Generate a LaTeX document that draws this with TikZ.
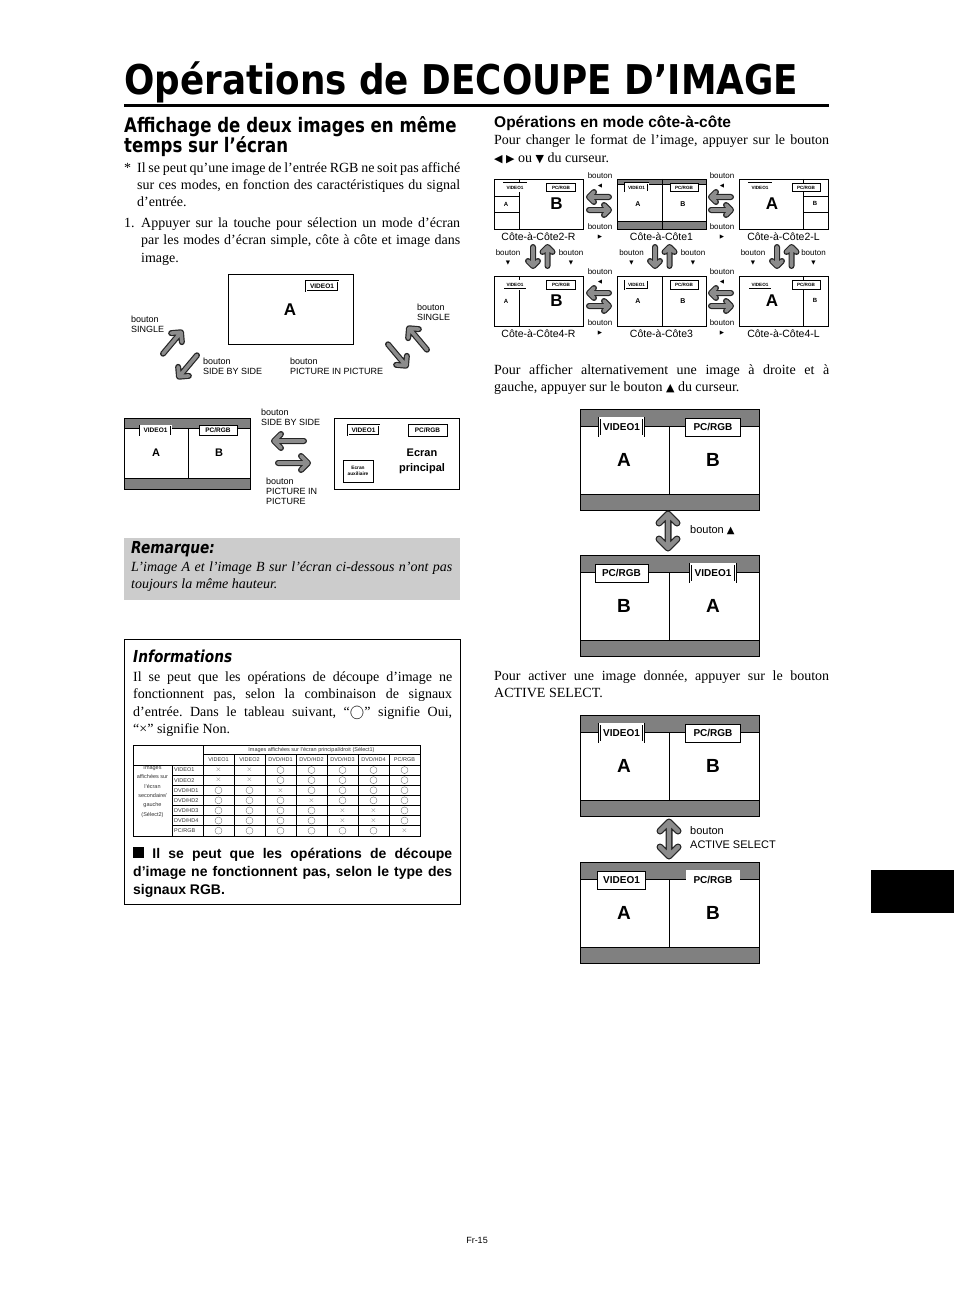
\documentclass[tikz,border=0pt]{standalone}
\usepackage{fontspec}
\usepackage{graphicx}
\setmainfont{Liberation Serif}
\setsansfont{Liberation Sans}
\newfontfamily\headfont[FakeStretch=0.83]{DejaVu Sans}
\newfontfamily\symfont{DejaVu Sans}
\frenchspacing

\definecolor{bandgray}{gray}{0.5}
\definecolor{remgray}{gray}{0.8}
\definecolor{arrowgray}{gray}{0.55}

\tikzset{
  scr/.style={draw, line width=0.9pt, fill=white},
  band/.style={draw, line width=0.9pt, fill=bandgray},
  divider/.style={line width=0.7pt},
  bigtag/.style={draw, line width=0.8pt, fill=white, inner xsep=4pt, inner ysep=0pt,
    minimum height=18pt, font=\sffamily\bfseries\fontsize{10}{10}\selectfont},
  bigsel/.style={bigtag, double, double distance=1.1pt},
  midtag/.style={draw, line width=0.6pt, fill=white, inner xsep=2pt, inner ysep=0pt,
    minimum height=10pt, font=\sffamily\bfseries\fontsize{6.5}{6.5}\selectfont},
  midsel/.style={midtag, double, double distance=0.7pt},
  tinytag/.style={draw, line width=0.5pt, fill=white, inner xsep=1pt, inner ysep=0pt,
    minimum height=8.5pt, font=\sffamily\bfseries\fontsize{4.6}{4.6}\selectfont},
  tinysel/.style={tinytag, double, double distance=0.5pt},
  bigletter/.style={font=\sffamily\bfseries\fontsize{19}{19}\selectfont},
  gridletter/.style={font=\sffamily\bfseries\fontsize{17}{17}\selectfont},
  midletter/.style={font=\sffamily\bfseries\fontsize{11}{11}\selectfont},
  smallletter/.style={font=\sffamily\bfseries\fontsize{6}{6}\selectfont},
  headl/.style={anchor=base west, inner sep=0pt, font=\headfont\bfseries\fontsize{20}{20}\selectfont},
  boxhead/.style={anchor=base west, inner sep=0pt, font=\headfont\bfseries\itshape\fontsize{16.5}{16.5}\selectfont},
  para/.style={anchor=base west, inner sep=0pt, text width=#1, align=justify,
    font=\fontsize{14}{17.5}\selectfont},
  lbl/.style={anchor=north west, inner sep=0pt, align=left, font=\sffamily\fontsize{9}{10}\selectfont},
  glbl/.style={inner sep=0pt, font=\sffamily\fontsize{8}{8}\selectfont},
  gsym/.style={inner sep=0pt, font=\symfont\fontsize{5.5}{5.5}\selectfont},
  capl/.style={inner sep=0pt, font=\sffamily\fontsize{10.5}{10.5}\selectfont},
  tabline/.style={line width=0.5pt},
  tabtxt/.style={inner sep=0pt, text=black!80, font=\sffamily\fontsize{5.5}{5.5}\selectfont},
  tabsym/.style={inner sep=0pt, text=black!55, draw=black!55, line width=0.4pt,
    font=\fontsize{7}{7}\selectfont},
  arrowout/.style={line width=6pt, black!85, line cap=round, line join=round},
  arrowin/.style={line width=3.6pt, arrowgray, line cap=round, line join=round},
  darrowout/.style={line width=7pt, black!85, line cap=round, line join=round},
  darrowin/.style={line width=4.4pt, arrowgray, line cap=round, line join=round},
  pics/barrow/.style 2 args={code={
    \draw[arrowout] (-#1,0) -- (#1,0) (#1-#2,-#2) -- (#1,0) -- (#1-#2,#2);
    \draw[arrowin] (-#1,0) -- (#1,0) (#1-#2,-#2) -- (#1,0) -- (#1-#2,#2);
  }},
  pics/dbarrow/.style 2 args={code={
    \draw[darrowout] (0,-#1) -- (0,#1) (-#2,-#1+#2) -- (0,-#1) -- (#2,-#1+#2)
      (-#2,#1-#2) -- (0,#1) -- (#2,#1-#2);
    \draw[darrowin] (0,-#1) -- (0,#1) (-#2,-#1+#2) -- (0,-#1) -- (#2,-#1+#2)
      (-#2,#1-#2) -- (0,#1) -- (#2,#1-#2);
  }},
}

% big side-by-side screen: top, left tag, its style, right tag, its style, letters, name
\newcommand{\bigscreen}[8]{%
  \draw[scr] (580,#1) rectangle (759,#1+101);
  \draw[band] (580,#1) rectangle (759,#1+17);
  \draw[band] (580,#1+85) rectangle (759,#1+101);
  \draw[divider] (669,#1+17) -- (669,#1+85);
  \node[#3] (#8l) at (621.5,#1+18) {#2};
  \node[#5] (#8r) at (713,#1+18) {#4};
  \node[bigletter] (#8a) at (624,#1+51) {#6};
  \node[bigletter] (#8b) at (713,#1+51) {#7};
}

% small screens of the grid: x, y, split strip / bands (1 or 0), name
\newcommand{\screenR}[4]{%
  \begin{scope}[shift={(#1,#2)}]
    \draw[scr] (0,0) rectangle (89,50);
    \draw[divider] (25,0) -- (25,50);
    \ifnum#3=1 \draw[divider] (0,17) -- (25,17) (0,33) -- (25,33); \fi
    \node[tinysel, minimum width=23pt] (#4v) at (21,8.5) {VIDEO1};
    \node[tinytag, minimum width=29pt] (#4p) at (67,8.5) {PC/RGB};
    \node[smallletter] (#4a) at (12,25) {A};
    \node[gridletter] (#4b) at (62.5,25) {B};
  \end{scope}}
\newcommand{\screenC}[4]{%
  \begin{scope}[shift={(#1,#2)}]
    \draw[scr] (0,0) rectangle (89,50);
    \ifnum#3=1 \draw[band] (0,0) rectangle (89,5.5); \draw[band] (0,42) rectangle (89,50); \fi
    \draw[divider] (45,0) -- (45,50);
    \node[tinysel, minimum width=23pt] (#4v) at (19.5,8.5) {VIDEO1};
    \node[tinytag, minimum width=28pt] (#4p) at (67,8.5) {PC/RGB};
    \node[smallletter, font=\sffamily\bfseries\fontsize{7}{7}\selectfont] (#4a) at (21,25) {A};
    \node[smallletter, font=\sffamily\bfseries\fontsize{7}{7}\selectfont] (#4b) at (66,25) {B};
  \end{scope}}
\newcommand{\screenL}[4]{%
  \begin{scope}[shift={(#1,#2)}]
    \draw[scr] (0,0) rectangle (89,50);
    \draw[divider] (64,0) -- (64,50);
    \ifnum#3=1 \draw[divider] (64,17) -- (89,17) (64,33) -- (89,33); \fi
    \node[tinysel, minimum width=23pt] (#4v) at (21,8.5) {VIDEO1};
    \node[tinytag, minimum width=28pt] (#4p) at (67,8.5) {PC/RGB};
    \node[gridletter] (#4a) at (33,25) {A};
    \node[smallletter] (#4b) at (76,24.5) {B};
  \end{scope}}

\begin{document}
\begin{tikzpicture}[x=1pt, y=-1pt]
\useasboundingbox (0,0) rectangle (954,1316);

% ==== TITLE ====
\node[anchor=base west, inner sep=0pt] (title) at (124,95)
  {\resizebox{674pt}{\height}{\headfont\bfseries\fontsize{41}{41}\selectfont Opérations de DECOUPE D’IMAGE}};
\draw[line width=3pt] (124,105.5) -- (829,105.5);

% ==== LEFT COLUMN TEXT ====
\node[headl] (headA) at (124,133) {Affichage de deux images en même};
\node[headl] (headB) at (124,153) {temps sur l’écran};
\node[anchor=base west, inner sep=0pt, font=\fontsize{14}{17.5}\selectfont] (star) at (124,172) {*};
\node[para=323pt] (noteRGB) at (137,172) {Il se peut qu’une image de l’entrée RGB ne soit pas affiché\linebreak
  sur ces modes, en fonction des caractéristiques du signal\linebreak d’entrée.};
\node[anchor=base west, inner sep=0pt, font=\fontsize{14}{17.5}\selectfont] (num1) at (124,227) {1.};
\node[para=319pt] (step1) at (141,227) {Appuyer sur la touche pour sélection un mode d’écran\linebreak
  par les modes d’écran simple, côte à côte et image dans\linebreak image.};

% ==== SINGLE / SIDE BY SIDE / PICTURE IN PICTURE ====
\draw[scr] (228,274) rectangle (353,344);
\node[midsel, minimum width=32pt] (singleTag) at (322,286) {VIDEO1};
\node[bigletter, font=\sffamily\bfseries\fontsize{17}{17}\selectfont] (singleA) at (290,310) {A};

\node[lbl] (lSingleL) at (131,315.5) {bouton\\SINGLE};
\node[lbl] (lSbsA) at (203,357.5) {bouton\\SIDE BY SIDE};
\node[lbl] (lPipA) at (290,357.5) {bouton\\PICTURE IN PICTURE};
\node[lbl] (lSingleR) at (417,303.5) {bouton\\SINGLE};
\pic[rotate=50] at (172,343) {barrow={14}{7}};
\pic[rotate=230] at (188,366) {barrow={14}{7}};
\pic[rotate=-50] at (397,355) {barrow={14}{7}};
\pic[rotate=130] at (418,339) {barrow={14}{7}};

% side by side screen
\draw[scr] (124,418) rectangle (250,489);
\draw[band] (124,418) rectangle (250,428);
\draw[band] (124,478) rectangle (250,489);
\draw[divider] (188,428) -- (188,478);
\node[midsel, minimum width=31pt] (sbsV) at (155.5,430.5) {VIDEO1};
\node[midtag, minimum width=38pt] (sbsP) at (218,430.5) {PC/RGB};
\node[midletter] (sbsA) at (156,453) {A};
\node[midletter] (sbsB) at (219,453) {B};

\node[lbl] (lSbsB) at (261,408.5) {bouton\\SIDE BY SIDE};
\node[lbl] (lPipB) at (266,477.5) {bouton\\PICTURE IN\\PICTURE};
\pic[rotate=180] at (289,441) {barrow={15}{7}};
\pic at (293,463) {barrow={15}{7}};

% picture in picture screen
\draw[scr] (334,418) rectangle (459,489);
\node[midsel, minimum width=31pt] (pipV) at (363.5,430) {VIDEO1};
\node[midtag, minimum width=39pt, minimum height=12pt] (pipP) at (427.5,430) {PC/RGB};
\node[draw, line width=0.8pt, minimum width=30pt, minimum height=22pt, inner sep=0pt, align=center,
  font=\sffamily\bfseries\fontsize{4.8}{6.5}\selectfont] (pipAux) at (358,471) {Ecran\\auxiliaire};
\node[align=center, inner sep=0pt, font=\sffamily\bfseries\fontsize{11}{15}\selectfont] (pipMain) at (422,461.5) {Ecran\\principal};

% ==== REMARQUE ====
\fill[remgray] (124,538) rectangle (460,600);
\node[boxhead] (remHead) at (131,553) {Remarque:};
\node[para=321pt, font=\itshape\fontsize{14}{17.5}\selectfont] (remText) at (131,571)
  {L’image A et l’image B sur l’écran ci-dessous n’ont pas\linebreak toujours la même hauteur.};

% ==== INFORMATIONS ====
\draw[line width=1pt] (124,639) rectangle (460,904);
\node[boxhead] (infoHead) at (133,662) {Informations};
\node[para=319pt] (infoText) at (133,681) {Il se peut que les opérations de découpe d’image ne\linebreak
  fonctionnent pas, selon la combinaison de signaux\linebreak
  d’entrée. Dans le tableau suivant, “$\bigcirc$” signifie Oui,\linebreak “×” signifie Non.};

% table
\draw[tabline] (133,745) rectangle (420,836);
\draw[tabline] (203,745) -- (203,836);
\draw[tabline] (203,754.5) -- (420,754.5);
\draw[tabline] (133,765) -- (420,765);
\draw[tabline] (172,765) -- (172,836);
\foreach \k in {1,...,6}{
    \draw[tabline] (203+31*\k,754.5) -- (203+31*\k,836);
    \draw[tabline] (172,765+10.1*\k) -- (420,765+10.1*\k);
}
\node[tabtxt] (tabHead) at (311.5,749.8) {Images affichées sur l’écran principal/droit (Sélect1)};
\node[tabtxt, align=center, font=\sffamily\fontsize{5.5}{9.4}\selectfont] (tabSide) at (152.5,791.5)
  {Images\\affichées sur\\l’écran\\secondaire/\\gauche\\(Sélect2)};
\foreach \s [count=\i from 0] in {VIDEO1,VIDEO2,DVD/HD1,DVD/HD2,DVD/HD3,DVD/HD4,PC/RGB}{
    \node[tabtxt] (col\i) at (218.5+31*\i,759.8) {\s};
    \node[tabtxt, anchor=west] (row\i) at (174,770.05+10.1*\i) {\s};
}
\foreach \row [count=\j from 0] in {{1,1,0,0,0,0,0},{1,1,0,0,0,0,0},{0,0,1,0,0,0,0},
    {0,0,0,1,0,0,0},{0,0,0,0,1,1,0},{0,0,0,0,1,1,0},{0,0,0,0,0,0,1}}{
    \foreach \v [count=\i from 0] in \row {
        \ifnum\v=1
            \node[tabsym, draw=none] (c\j\i) at (218.5+31*\i,770.05+10.1*\j) {$\times$};
        \else
            \node[tabsym, circle, minimum size=7pt] (c\j\i) at (218.5+31*\i,770.05+10.1*\j) {};
        \fi
    }
}

\node[para=319pt, font=\sffamily\bfseries\fontsize{14}{18}\selectfont] (infoRGB) at (133,858)
  {\rule{11pt}{11pt} Il se peut que les opérations de découpe\linebreak
  d’image ne fonctionnent pas, selon le type des\linebreak signaux RGB.};

% ==== RIGHT COLUMN: COTE-A-COTE ====
\node[anchor=base west, inner sep=0pt, font=\sffamily\bfseries\fontsize{15.5}{18}\selectfont] (headR) at (494,128)
  {Opérations en mode côte-à-côte};
\node[para=335pt] (formatText) at (494,145) {Pour changer le format de l’image, appuyer sur le bouton\linebreak
  {\symfont\fontsize{11}{17.5}\selectfont ◀ ▶} ou {\symfont\fontsize{11}{17.5}\selectfont ▼} du curseur.};

% grid of formats
\screenR{494}{179}{1}{r2}
\screenC{617}{179}{1}{c1}
\screenL{739}{179}{1}{l2}
\screenR{494}{276}{0}{r4}
\screenC{617}{276}{0}{c3}
\screenL{739}{276}{0}{l4}

\node[capl] (capR2) at (538.5,237) {Côte-à-Côte2-R};
\node[capl] (capC1) at (661.5,237) {Côte-à-Côte1};
\node[capl] (capL2) at (783.5,237) {Côte-à-Côte2-L};
\node[capl] (capR4) at (538.5,334) {Côte-à-Côte4-R};
\node[capl] (capC3) at (661.5,334) {Côte-à-Côte3};
\node[capl] (capL4) at (783.5,334) {Côte-à-Côte4-L};

% horizontal buttons between columns
\foreach \x in {600,722}{
    \foreach \y in {0,96}{
        \node[glbl] at (\x,175.5+\y) {bouton};
        \node[gsym] at (\x,186.5+\y) {◀};
        \node[glbl] at (\x,226.5+\y) {bouton};
        \node[gsym] at (\x,237+\y) {▶};
        \pic[rotate=180] at (\x-1,197+\y) {barrow={10}{5}};
        \pic at (\x-1,210+\y) {barrow={10}{5}};
    }
}

% vertical buttons between rows
\foreach \x/\la/\lb in {533/508/571,655/631.5/693,777/753/813.5}{
    \node[glbl] at (\la,253) {bouton};
    \node[gsym] at (\la,263) {▼};
    \node[glbl] at (\lb,253) {bouton};
    \node[gsym] at (\lb,263) {▼};
    \pic[rotate=-90] at (\x,256.5) {barrow={9.5}{5}};
    \pic[rotate=90] at (\x+14.5,256.5) {barrow={9.5}{5}};
}

% ==== RIGHT COLUMN: SWAP ====
\node[para=335pt] (swapText) at (494,374) {Pour afficher alternativement une image à droite et à\linebreak
  gauche, appuyer sur le bouton {\symfont\fontsize{11}{17.5}\selectfont ▲} du curseur.};
\bigscreen{409}{VIDEO1}{bigsel, minimum width=44pt}{PC/RGB}{bigtag, minimum width=55pt}{A}{B}{s1}
\pic at (668,531) {dbarrow={17}{9}};
\node[anchor=west, inner sep=0pt, font=\sffamily\fontsize{11}{11}\selectfont] (btnUp) at (690,530)
  {bouton {\symfont\fontsize{10}{10}\selectfont ▲}};
\bigscreen{555}{PC/RGB}{bigtag, minimum width=53pt}{VIDEO1}{bigsel, minimum width=44pt}{B}{A}{s2}

% ==== RIGHT COLUMN: ACTIVE SELECT ====
\node[para=335pt] (activeText) at (494,680) {Pour activer une image donnée, appuyer sur le bouton\linebreak ACTIVE SELECT.};
\bigscreen{715}{VIDEO1}{bigsel, minimum width=44pt}{PC/RGB}{bigtag, minimum width=55pt}{A}{B}{s3}
\pic at (669,839) {dbarrow={17}{9}};
\node[anchor=west, inner sep=0pt, align=left, font=\sffamily\fontsize{11}{14}\selectfont] (btnActive) at (690,838)
  {bouton\\ACTIVE SELECT};
\bigscreen{862}{VIDEO1}{bigtag, minimum width=48pt}{PC/RGB}{bigsel, minimum width=52pt}{A}{B}{s4}

% ==== TAB AND PAGE NUMBER ====
\fill (871,870) rectangle (954,913);
\node[inner sep=0pt, font=\sffamily\fontsize{9}{9}\selectfont] (pageNo) at (477,1240) {Fr-15};

\end{tikzpicture}
\end{document}
